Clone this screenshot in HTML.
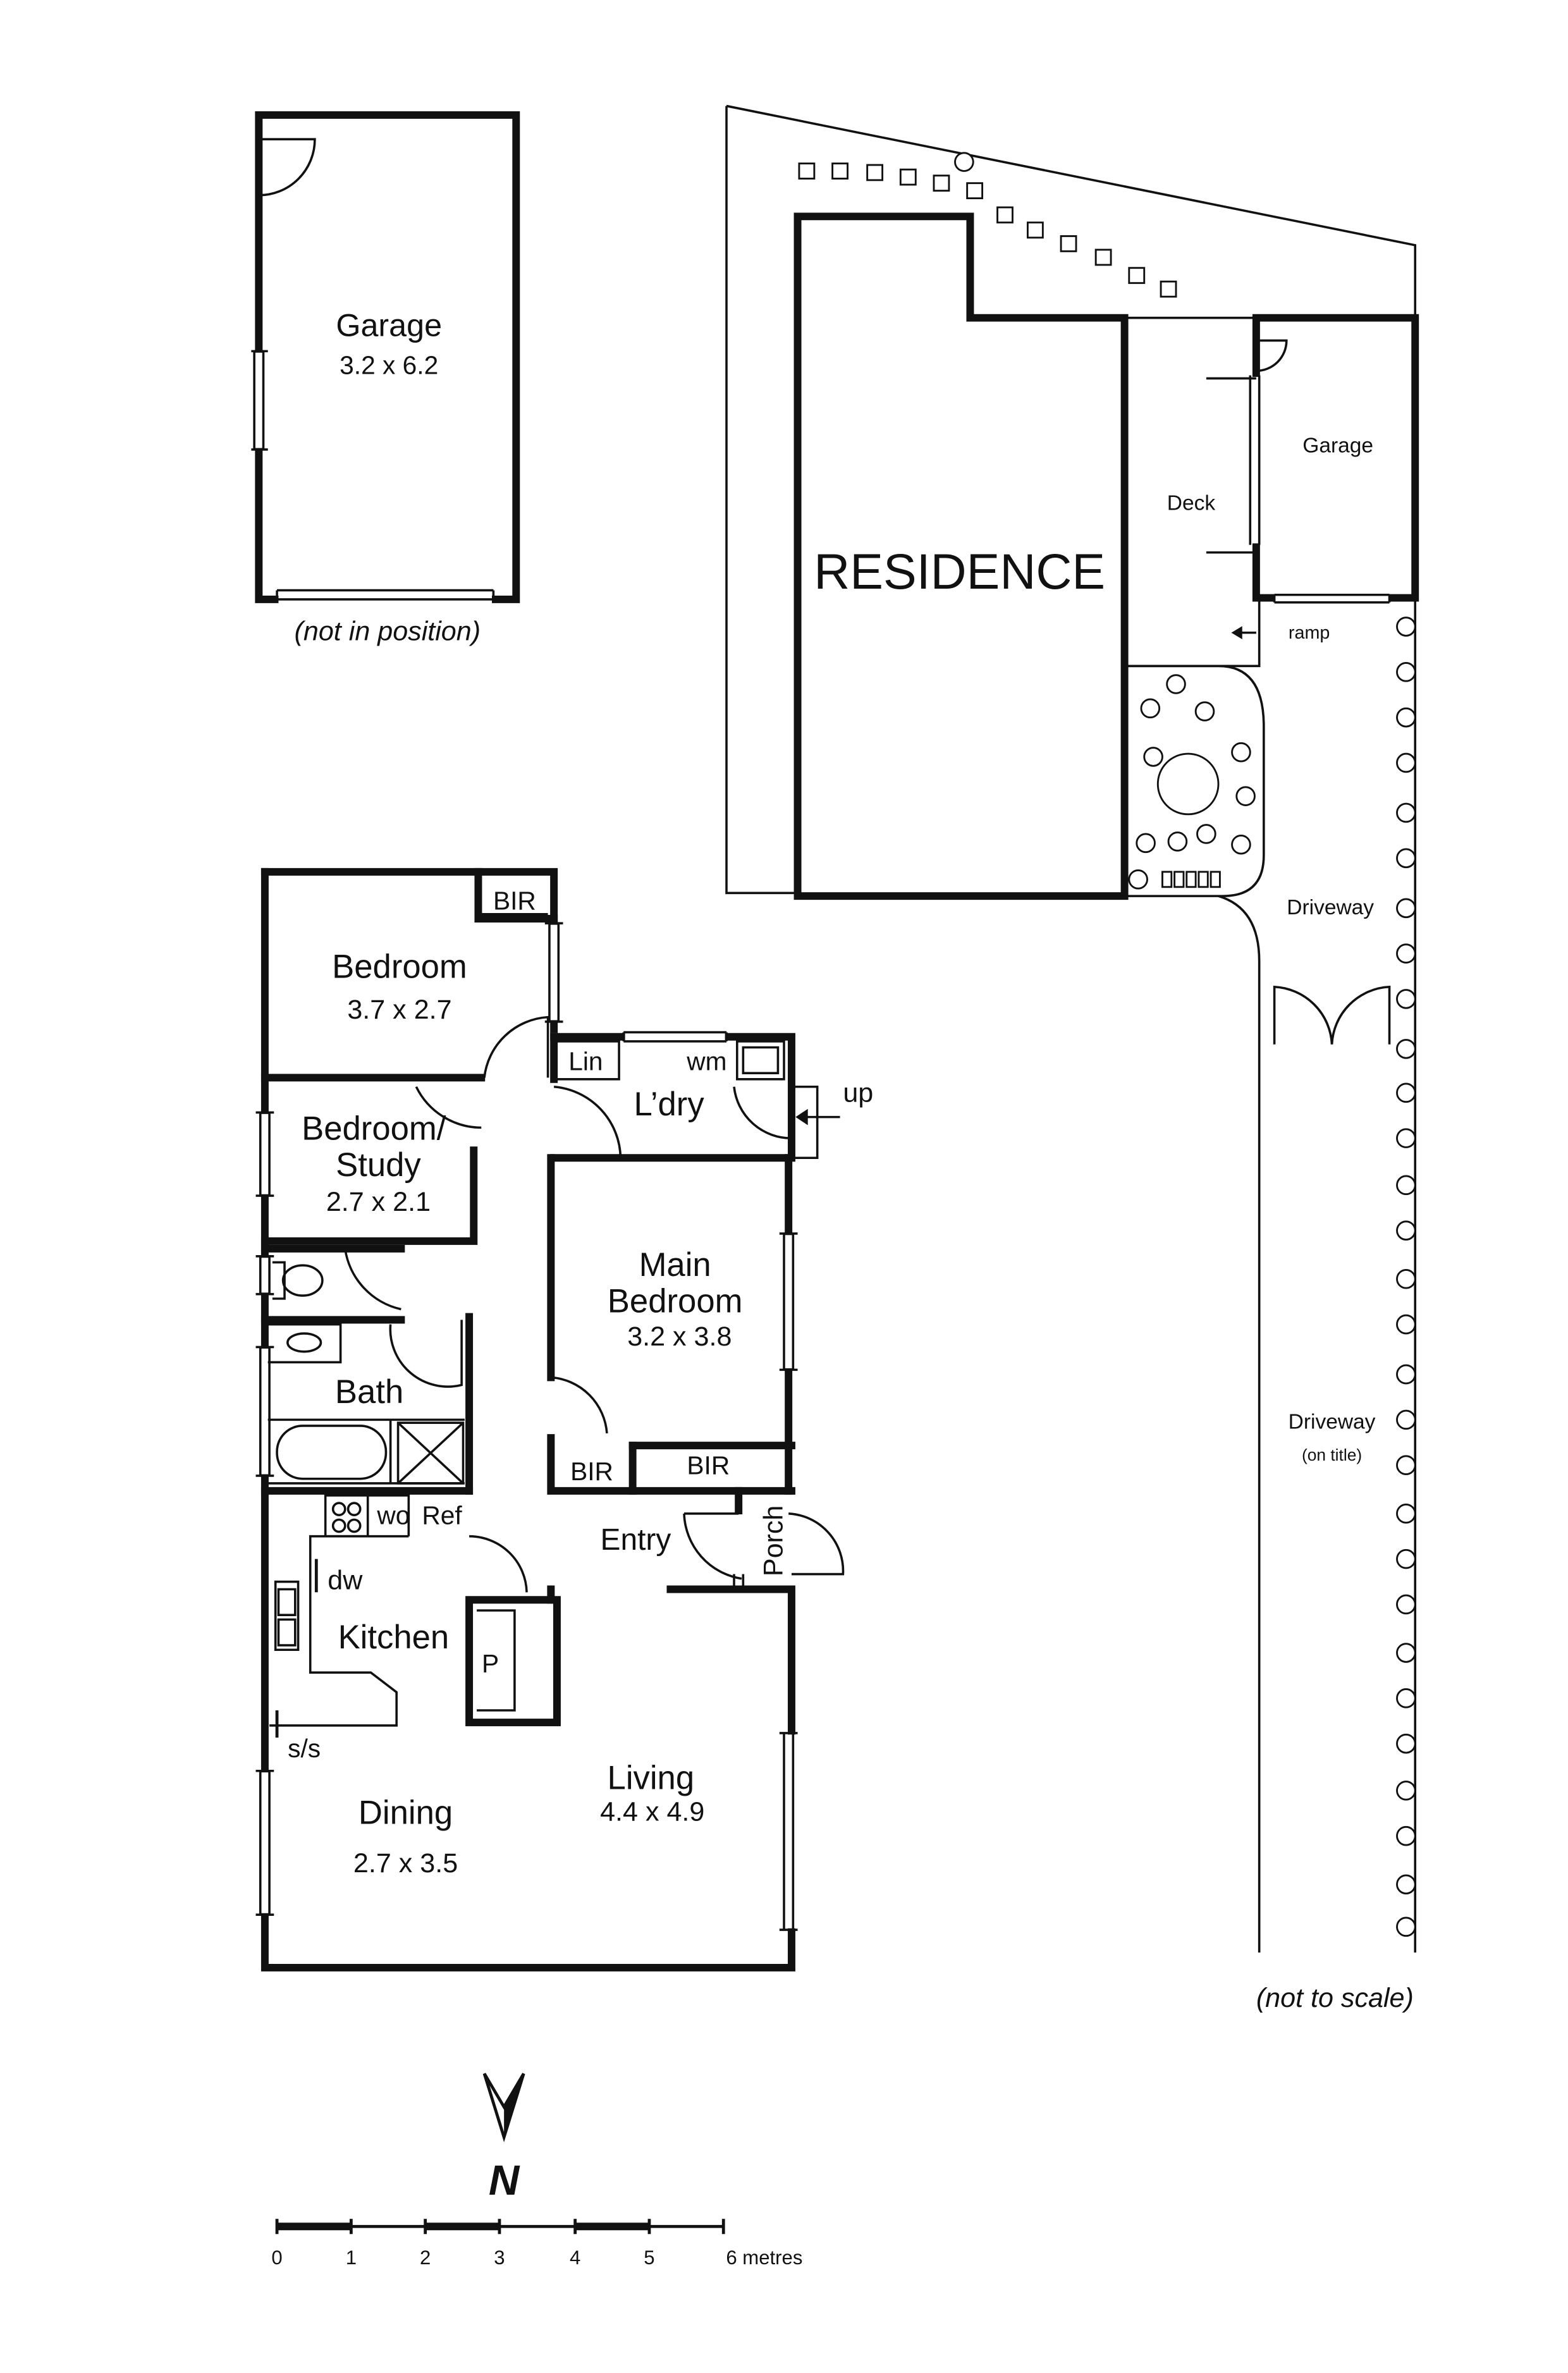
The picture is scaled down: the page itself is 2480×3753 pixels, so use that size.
<!DOCTYPE html>
<html><head><meta charset="utf-8"><style>
html,body{margin:0;padding:0;background:#fff}
svg{display:block}
text{font-family:"Liberation Sans",sans-serif;fill:#111}
</style></head><body>
<svg width="2480" height="3753" viewBox="0 0 1036 1567.8" preserveAspectRatio="none" xmlns="http://www.w3.org/2000/svg">
<rect width="1040" height="1570" fill="#fff"/>
<g fill="none" stroke="#111" stroke-width="5" stroke-linecap="square">
<path d="M171,76 H341 V396 H171 Z"/>
<path d="M527,143 H641 V210 H743 V592 H527 Z"/>
<path d="M830,210 H935 V395 H830 Z"/>
<path d="M175,576 H366 V680"/>
<path d="M316,576 V607 H366"/>
<path d="M175,576 V1300 H523 V1050"/>
<path d="M521,765 V985"/>
<path d="M366,685 H523 V765 H366"/>
<path d="M366,685 V713"/>
<path d="M175,712 H318"/>
<path d="M364,765 V910"/>
<path d="M313,760 V820 H175"/>
<path d="M175,825 H265"/>
<path d="M175,872 H265"/>
<path d="M310,870 V985"/>
<path d="M364,950 V985 H523"/>
<path d="M418,955 V985"/>
<path d="M418,955 H523"/>
<path d="M175,985 H310"/>
<path d="M443,1050 H521"/>
<path d="M488,985 V998"/>
<path d="M310,1057 H368 V1138 H310 Z"/>
<path d="M364,1050 V1057"/>
</g>
<g fill="#fff">
<rect x="165" y="233" width="12" height="63"/>
<rect x="184" y="390" width="141" height="10"/>
<rect x="842" y="390" width="76" height="10"/>
<rect x="826" y="249" width="8" height="110"/>
<rect x="361" y="611" width="10" height="63"/>
<rect x="413" y="680" width="66" height="10"/>
<rect x="516" y="816" width="10" height="88"/>
<rect x="516" y="1146" width="10" height="128"/>
<rect x="170" y="736" width="10" height="53"/>
<rect x="170" y="831" width="10" height="23"/>
<rect x="170" y="891" width="10" height="83"/>
<rect x="170" y="1171" width="10" height="93"/>
</g>
<g fill="none" stroke="#111" stroke-width="1.5">
<path d="M480,70 L935,162 V210"/>
<path d="M480,70 V590 H527"/>
<path d="M743,210 H830"/>
<path d="M743,440 H832 V395"/>
<path d="M743,440 H805 Q835,440 835,480 V565 Q835,592 808,592 H743"/>
<path d="M805,592 Q832,600 832,635 V1290"/>
<path d="M935,395 V1290"/>
<path d="M842,690 V652 A40,40 0 0 1 880,690"/>
<path d="M918,690 V652 A40,40 0 0 0 880,690"/>
<path d="M171,92 H208 A37,37 0 0 1 171,129"/>
<path d="M168,232 V297 M174,232 V297 M166,232 H177 M166,297 H177"/>
<path d="M183,390 H326 M183,396 H326 M183,390 V396 M326,390 V396"/>
<path d="M842,398 H918 M842,393 H918 M842,393 V398 M918,393 V398"/>
<path d="M826,248 V360 M832,248 V360"/>
<path d="M797,250 H830 M797,365 H830"/>
<path d="M830,225 H850 A20,20 0 0 1 830,245"/>
<path d="M830,418 H815"/><path d="M815,418 l5,-3 v6 z" fill="#111"/>
<path d="M363,610 V675 M369,610 V675 M360,610 H372 M360,675 H372"/>
<path d="M412,682 V688 M480,682 V688 M412,682 H480 M412,688 H480"/>
<path d="M518,815 V905 M524,815 V905 M515,815 H527 M515,905 H527"/>
<path d="M518,1145 V1275 M524,1145 V1275 M515,1145 H527 M515,1275 H527"/>
<path d="M172,735 V790 M178,735 V790 M169,735 H181 M169,790 H181"/>
<path d="M172,830 V855 M178,830 V855 M169,830 H181 M169,855 H181"/>
<path d="M172,890 V975 M178,890 V975 M169,890 H181 M169,975 H181"/>
<path d="M172,1170 V1265 M178,1170 V1265 M169,1170 H181 M169,1265 H181"/>
<path d="M320,712 A45,45 0 0 1 362,672 V712"/>
<path d="M275,718 A48,48 0 0 0 318,745"/>
<path d="M366,718 A48,48 0 0 1 410,765"/>
<path d="M485,718 A38,38 0 0 0 523,752"/>
<path d="M523,718 H540 V765 H523"/><path d="M555,738 H527"/><path d="M527,738 l6,-4 v8 z" fill="#111"/>
<path d="M228,825 A48,48 0 0 0 265,865"/>
<path d="M258,875 A38,38 0 0 0 305,915 V872"/>
<path d="M364,910 A40,40 0 0 1 401,947"/>
<path d="M310,1015 A38,38 0 0 1 348,1052"/>
<path d="M452,1000 H488 M452,1000 A45,45 0 0 0 490,1043"/>
<path d="M521,1000 A38,38 0 0 1 557,1040 H523"/>
<path d="M485,1040 V1050 M491,1040 V1050"/>
<path d="M368,688 H409 V713 H368"/>
<path d="M487,688 H518 V713 H487 Z M491,692 H514 V709 H491 Z"/>
<path d="M316,580 V604 H362"/>
<ellipse cx="200" cy="846" rx="13" ry="10"/>
<path d="M180,834 H188 V858 H180"/>
<path d="M177,875 H225 V900 H177"/><ellipse cx="201" cy="887" rx="11" ry="6"/>
<path d="M177,938 H307 M177,980 H307 M258,938 V980"/>
<rect x="183" y="942" width="72" height="35" rx="17"/>
<path d="M263,940 H306 V980 H263 Z M263,940 L306,980 M306,940 L263,980"/>
<path d="M215,988 H243 V1015 H215 Z M243,988 H270 V1015"/>
<circle cx="224" cy="997" r="4"/><circle cx="234" cy="997" r="4"/><circle cx="224" cy="1008" r="4"/><circle cx="234" cy="1008" r="4"/>
<path d="M270,1015 H205 V1105 H245 L262,1118 V1140 H178"/>
<path d="M209,1030 V1052" stroke-width="2"/>
<path d="M182,1045 H197 V1090 H182 Z M184,1050 H195 V1067 H184 Z M184,1070 H195 V1087 H184 Z"/>
<path d="M183,1130 V1148" stroke-width="2"/>
<path d="M315,1064 H340 V1130 H315"/>
</g>
<g fill="#fff" stroke="#111" stroke-width="1.2">
<rect x="528" y="108" width="10" height="10"/><rect x="550" y="108" width="10" height="10"/>
<rect x="573" y="109" width="10" height="10"/><rect x="595" y="112" width="10" height="10"/>
<rect x="617" y="116" width="10" height="10"/><rect x="639" y="121" width="10" height="10"/>
<rect x="659" y="137" width="10" height="10"/><rect x="679" y="147" width="10" height="10"/>
<rect x="701" y="156" width="10" height="10"/><rect x="724" y="165" width="10" height="10"/>
<rect x="746" y="177" width="10" height="10"/><rect x="767" y="186" width="10" height="10"/>
<circle cx="637" cy="107" r="6"/>
<circle cx="785" cy="518" r="20"/>
<circle cx="760" cy="468" r="6"/><circle cx="777" cy="452" r="6"/><circle cx="796" cy="470" r="6"/>
<circle cx="820" cy="497" r="6"/><circle cx="823" cy="526" r="6"/><circle cx="820" cy="558" r="6"/>
<circle cx="797" cy="551" r="6"/><circle cx="778" cy="556" r="6"/><circle cx="757" cy="557" r="6"/>
<circle cx="762" cy="500" r="6"/><circle cx="752" cy="581" r="6"/>
<rect x="768" y="576" width="6" height="10"/><rect x="776" y="576" width="6" height="10"/><rect x="784" y="576" width="6" height="10"/><rect x="792" y="576" width="6" height="10"/><rect x="800" y="576" width="6" height="10"/>
</g>
<g fill="#fff" stroke="#111" stroke-width="1.2">
<circle cx="929" cy="414" r="6"/><circle cx="929" cy="444" r="6"/><circle cx="929" cy="474" r="6"/><circle cx="929" cy="504" r="6"/><circle cx="929" cy="537" r="6"/><circle cx="929" cy="567" r="6"/><circle cx="929" cy="600" r="6"/><circle cx="929" cy="630" r="6"/><circle cx="929" cy="660" r="6"/><circle cx="929" cy="693" r="6"/><circle cx="929" cy="722" r="6"/><circle cx="929" cy="752" r="6"/><circle cx="929" cy="783" r="6"/><circle cx="929" cy="813" r="6"/><circle cx="929" cy="845" r="6"/><circle cx="929" cy="875" r="6"/><circle cx="929" cy="908" r="6"/><circle cx="929" cy="938" r="6"/><circle cx="929" cy="968" r="6"/><circle cx="929" cy="1000" r="6"/><circle cx="929" cy="1030" r="6"/><circle cx="929" cy="1060" r="6"/><circle cx="929" cy="1092" r="6"/><circle cx="929" cy="1122" r="6"/><circle cx="929" cy="1152" r="6"/><circle cx="929" cy="1183" r="6"/><circle cx="929" cy="1213" r="6"/><circle cx="929" cy="1245" r="6"/><circle cx="929" cy="1273" r="6"/>
</g>
<path d="M320,1370 L333,1412 L346,1370 L333,1392 Z" fill="#fff" stroke="#111" stroke-width="2"/>
<path d="M333,1392 L346,1370 L333,1412 Z" fill="#111"/>
<g stroke="#111" stroke-width="2">
<path d="M183,1471 H478"/><path d="M183,1466 V1476 M232,1466 V1476 M281,1466 V1476 M330,1466 V1476 M380,1466 V1476 M429,1466 V1476 M478,1466 V1476"/>
</g>
<g stroke="#111" stroke-width="5"><path d="M183,1471 H232 M281,1471 H330 M380,1471 H429"/></g>
<g font-size="13" text-anchor="middle">
<text x="183" y="1496">0</text><text x="232" y="1496">1</text><text x="281" y="1496">2</text><text x="330" y="1496">3</text><text x="380" y="1496">4</text><text x="429" y="1496">5</text><text x="505" y="1496">6 metres</text>
</g>
<text x="333" y="1450" font-size="28" font-weight="bold" font-style="italic" text-anchor="middle">N</text>
<g text-anchor="middle">
<text x="257" y="222" font-size="21">Garage</text>
<text x="257" y="247" font-size="17">3.2 x 6.2</text>
<text x="256" y="423" font-size="18" font-style="italic">(not in position)</text>
<text x="634" y="389" font-size="33">RESIDENCE</text>
<text x="787" y="337" font-size="14">Deck</text>
<text x="884" y="299" font-size="14">Garage</text>
<text x="865" y="422" font-size="12">ramp</text>
<text x="879" y="604" font-size="14">Driveway</text>
<text x="880" y="944" font-size="14">Driveway</text>
<text x="880" y="965" font-size="11">(on title)</text>
<text x="882" y="1326" font-size="18" font-style="italic">(not to scale)</text>
<text x="340" y="601" font-size="17">BIR</text>
<text x="264" y="646" font-size="22">Bedroom</text>
<text x="264" y="673" font-size="18">3.7 x 2.7</text>
<text x="387" y="707" font-size="17">Lin</text>
<text x="467" y="707" font-size="17">wm</text>
<text x="442" y="737" font-size="22">L’dry</text>
<text x="567" y="728" font-size="18">up</text>
<text x="247" y="753" font-size="22">Bedroom/</text>
<text x="250" y="777" font-size="22">Study</text>
<text x="250" y="800" font-size="18">2.7 x 2.1</text>
<text x="446" y="843" font-size="22">Main</text>
<text x="446" y="867" font-size="22">Bedroom</text>
<text x="449" y="889" font-size="18">3.2 x 3.8</text>
<text x="244" y="927" font-size="22">Bath</text>
<text x="391" y="978" font-size="17">BIR</text>
<text x="468" y="974" font-size="17">BIR</text>
<text x="260" y="1007" font-size="17">wo</text>
<text x="292" y="1007" font-size="17">Ref</text>
<text x="420" y="1024" font-size="20">Entry</text>
<text x="228" y="1050" font-size="18">dw</text>
<text x="260" y="1089" font-size="22">Kitchen</text>
<text x="324" y="1105" font-size="17">P</text>
<text x="201" y="1161" font-size="17">s/s</text>
<text x="430" y="1182" font-size="22">Living</text>
<text x="431" y="1203" font-size="18">4.4 x 4.9</text>
<text x="268" y="1205" font-size="22">Dining</text>
<text x="268" y="1237" font-size="18">2.7 x 3.5</text>
<text x="0" y="0" font-size="18" transform="translate(517,1018) rotate(-90)">Porch</text>
</g>
</svg>
</body></html>
